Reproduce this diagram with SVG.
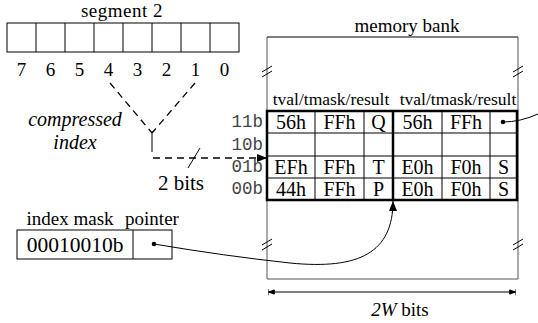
<svg xmlns="http://www.w3.org/2000/svg" width="538" height="323" viewBox="0 0 538 323">
<defs>
<style>
.t{font-family:"Liberation Serif","Times New Roman",serif;fill:#000}
.m{font-family:"Liberation Mono","Courier New",monospace;fill:#444}
.thin{fill:none;stroke:#000;stroke-width:1}
.grey{fill:none;stroke:#555;stroke-width:1}
.thick{fill:none;stroke:#000;stroke-width:2.5}
.dash{fill:none;stroke:#000;stroke-width:1.3;stroke-dasharray:7,5}
</style>
<marker id="ah" viewBox="0 0 10 10" refX="10" refY="5" markerWidth="10" markerHeight="10" markerUnits="userSpaceOnUse" orient="auto">
<path d="M0,1 L10,5 L0,9 Z" fill="#000"/>
</marker>
<marker id="dimS" viewBox="0 0 10 10" refX="0" refY="5" markerWidth="7" markerHeight="7" markerUnits="userSpaceOnUse" orient="auto">
<path d="M0,0 L0,10 M1,5 L9,2 L9,8 Z" stroke="#000" stroke-width="1.4" fill="#000"/>
</marker>
<marker id="dimE" viewBox="0 0 10 10" refX="10" refY="5" markerWidth="7" markerHeight="7" markerUnits="userSpaceOnUse" orient="auto">
<path d="M10,0 L10,10 M9,5 L1,2 L1,8 Z" stroke="#000" stroke-width="1.4" fill="#000"/>
</marker>
</defs>
<rect width="538" height="323" fill="#fff"/>

<g id="segment2">
<text class="t" x="122" y="17" font-size="19" text-anchor="middle" letter-spacing="0.5">segment 2</text>
<rect class="thin" x="7" y="23" width="232" height="29" stroke-width="1.3"/>
<path class="thin" stroke-width="1.3" d="M36,23V52M65,23V52M94,23V52M123,23V52M152,23V52M181,23V52M210,23V52"/>
<g class="t" font-size="19" text-anchor="middle">
<text x="21.5" y="76">7</text><text x="50.5" y="76">6</text><text x="79.5" y="76">5</text><text x="108.5" y="76">4</text>
<text x="137.5" y="76">3</text><text x="166.5" y="76">2</text><text x="195.5" y="76">1</text><text x="224.5" y="76">0</text>
</g>
</g>

<g id="compressed-index">
<text class="t" x="75" y="126" font-size="20" font-style="italic" text-anchor="middle">compressed</text>
<text class="t" x="75" y="149" font-size="20" font-style="italic" text-anchor="middle">index</text>
<text class="t" x="181" y="190" font-size="21" text-anchor="middle">2 bits</text>
</g>

<g id="memory-bank">
<text class="t" x="407" y="32" font-size="19" text-anchor="middle">memory bank</text>
<path d="M267,37H518" stroke="#000" stroke-width="1.2" fill="none"/>
<path class="grey" d="M267,37V279M518,37V279M267,279H518"/>
<path class="thin" d="M262,72L272,66M262,77L272,71M513,72L523,66M513,77L523,71M262,245L272,239M262,250L272,244M513,245L523,239M513,250L523,244"/>
<text class="t" x="331" y="105" font-size="17.5" text-anchor="middle">tval/tmask/result</text>
<text class="t" x="458" y="105" font-size="17.5" text-anchor="middle">tval/tmask/result</text>
</g>

<g id="table">
<path class="thin" d="M267,133H517M267,156H517M267,178H517M315,111V200M364,111V200M442,111V200M490,111V200"/>
<rect class="thick" x="267" y="111" width="250" height="89"/>
<path class="thick" d="M393,111V200"/>
<g class="m" font-size="17.5" text-anchor="end">
<text x="263" y="127">11b</text><text x="263" y="150">10b</text><text x="263" y="172">01b</text><text x="263" y="194">00b</text>
</g>
<g class="t" font-size="20" text-anchor="middle">
<text x="291" y="129">56h</text><text x="339.5" y="129">FFh</text><text x="378.5" y="129">Q</text><text x="417.5" y="129">56h</text><text x="466" y="129">FFh</text>
<text x="291" y="174">EFh</text><text x="339.5" y="174">FFh</text><text x="378.5" y="174">T</text><text x="417.5" y="174">E0h</text><text x="466" y="174">F0h</text><text x="503.5" y="174">S</text>
<text x="291" y="196">44h</text><text x="339.5" y="196">FFh</text><text x="378.5" y="196">P</text><text x="417.5" y="196">E0h</text><text x="466" y="196">F0h</text><text x="503.5" y="196">S</text>
</g>
<circle cx="503" cy="122" r="2.3" fill="#000"/>
</g>

<g id="index-mask">
<text class="t" x="70" y="225" font-size="19" text-anchor="middle">index mask</text>
<text class="t" x="152" y="225" font-size="19" text-anchor="middle">pointer</text>
<rect class="thin" x="17" y="230" width="155" height="29"/>
<path class="thin" d="M133,230V259"/>
<text class="t" x="75" y="252" font-size="21.5" text-anchor="middle">00010010b</text>
<circle cx="154" cy="244" r="2.3" fill="#000"/>
</g>

<g id="connectors">
<path class="dash" d="M110,83L152,133M195,83L152,133"/>
<path class="thin" stroke-width="1.3" d="M152,131V152"/>
<path class="dash" d="M153,158H262" stroke-dasharray="10,6"/>
<path d="M258,158H267" stroke="#000" stroke-width="1.3" marker-end="url(#ah)"/>
<path class="thin" stroke-width="1.3" d="M188,168L200,148"/>
<path class="thin" d="M154,244Q225,256 290,263C360,270 393,252 393,201" marker-end="url(#ah)"/>
<path class="thin" d="M503,122Q520,122 538,114"/>
<path class="thin" d="M268,292H516" marker-start="url(#dimS)" marker-end="url(#dimE)"/>
<text class="t" x="400" y="316" font-size="19" text-anchor="middle"><tspan font-style="italic">2W</tspan> bits</text>
</g>
</svg>
